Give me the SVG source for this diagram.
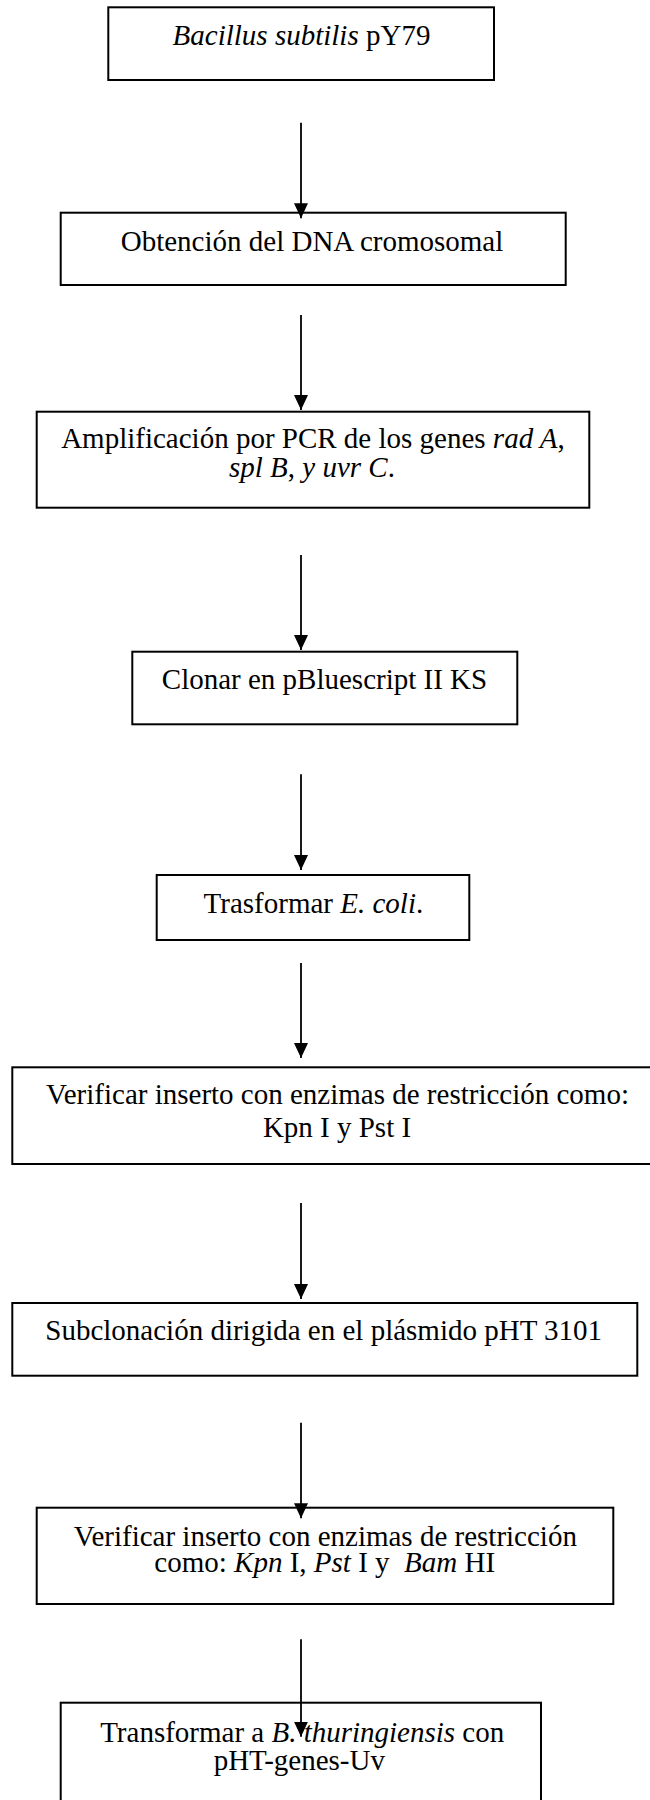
<svg xmlns="http://www.w3.org/2000/svg" width="650" height="1800" viewBox="0 0 650 1800">
<style>
.box{fill:#fff;stroke:#000;stroke-width:2}
.t{font-family:"Liberation Serif","Times New Roman",serif;font-size:29px;fill:#000;text-anchor:middle}
.i{font-style:italic}
.c{stroke:#000;stroke-width:1.8;fill:none}
</style>
<defs>
<marker id="ah" markerUnits="userSpaceOnUse" markerWidth="16" markerHeight="16" viewBox="0 0 16 16" refX="15" refY="8" orient="auto">
<path d="M0,1 L15,8 L0,15 Z" fill="#000"/>
</marker>
</defs>
<g id="nodes">
<g id="n1"><rect class="box" x="108.3" y="7.3" width="385.7" height="72.7"/>
<text class="t" x="301.5" y="45"><tspan class="i">Bacillus subtilis</tspan> pY79</text></g>
<g id="n2"><rect class="box" x="60.7" y="212.7" width="505" height="72.3"/>
<text class="t" x="312" y="250.7">Obtención del DNA cromosomal</text></g>
<g id="n3"><rect class="box" x="36.7" y="411.7" width="552.6" height="96"/>
<text class="t" x="313" y="448.3">Amplificación por PCR de los genes <tspan class="i">rad A</tspan>,</text>
<text class="t" x="312" y="476.7"><tspan class="i">spl B</tspan>, <tspan class="i">y uvr C</tspan>.</text></g>
<g id="n4"><rect class="box" x="132.3" y="651.7" width="385" height="72.6"/>
<text class="t" x="324.5" y="689.3">Clonar en pBluescript II KS</text></g>
<g id="n5"><rect class="box" x="156.7" y="875" width="312.6" height="65"/>
<text class="t" x="313.4" y="913.3">Trasformar <tspan class="i">E. coli</tspan>.</text></g>
<g id="n6"><rect class="box" x="12.3" y="1067.3" width="650.7" height="96.7"/>
<text class="t" x="337.5" y="1104">Verificar inserto con enzimas de restricción como:</text>
<text class="t" x="337" y="1137.3">Kpn I y Pst I</text></g>
<g id="n7"><rect class="box" x="12.3" y="1303" width="625" height="72.7"/>
<text class="t" x="323.7" y="1340">Subclonación dirigida en el plásmido pHT 3101</text></g>
<g id="n8"><rect class="box" x="36.7" y="1507.7" width="576.6" height="96.3"/>
<text class="t" x="325.3" y="1545.7">Verificar inserto con enzimas de restricción</text>
<text class="t" x="324.7" y="1572.3">como: <tspan class="i">Kpn</tspan> I, <tspan class="i">Pst</tspan> I y&#160; <tspan class="i">Bam</tspan> HI</text></g>
<g id="n9"><rect class="box" x="60.7" y="1702.7" width="480.3" height="100"/>
<text class="t" x="302.2" y="1742.3">Transformar a <tspan class="i">B. thuringiensis</tspan> con</text>
<text class="t" x="299.3" y="1770">pHT-genes-Uv</text></g>
</g>
<g id="connectors">
<line class="c" x1="301" y1="122.7" x2="301" y2="218.3" marker-end="url(#ah)"/>
<line class="c" x1="301" y1="315" x2="301" y2="410" marker-end="url(#ah)"/>
<line class="c" x1="301" y1="555" x2="301" y2="650" marker-end="url(#ah)"/>
<line class="c" x1="301" y1="774.3" x2="301" y2="870" marker-end="url(#ah)"/>
<line class="c" x1="301" y1="963" x2="301" y2="1058" marker-end="url(#ah)"/>
<line class="c" x1="301" y1="1203" x2="301" y2="1299" marker-end="url(#ah)"/>
<line class="c" x1="301" y1="1422.7" x2="301" y2="1518.3" marker-end="url(#ah)"/>
<line class="c" x1="301" y1="1639.3" x2="301" y2="1736.7" marker-end="url(#ah)"/>
</g>
</svg>
